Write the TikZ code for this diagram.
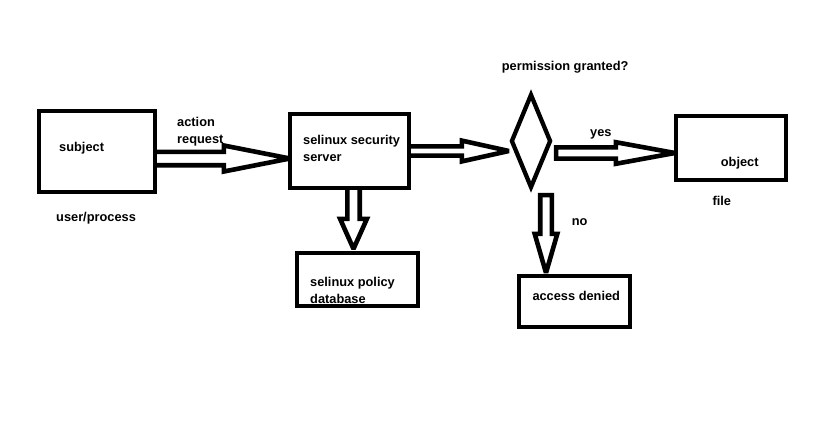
\documentclass[tikz,border=0pt]{standalone}
\usepackage{fontspec}
\setmainfont{Liberation Sans}
\usetikzlibrary{shapes.geometric,calc}
\tikzset{
  box/.style={draw, line width=4.3pt, rectangle, inner sep=0pt, line join=miter},
  dia/.style={draw, line width=4.3pt, diamond, inner sep=0pt, line join=miter, miter limit=12},
  txt/.style={inner sep=0pt, anchor=base west, font=\fontsize{12.8pt}{15pt}\selectfont\bfseries},
  blk/.style={draw, line width=4.6pt, line join=miter, miter limit=2}
}
% horizontal block arrow: tail, tip, shaft half, head half, head length, closing
\newcommand{\harrow}[6]{%
  \path[blk] let \p1=(#1), \p2=(#2) in
    (\x1,{\y1+#3pt}) -- ({\x2-#5pt},{\y1+#3pt}) -- ({\x2-#5pt},{\y1+#4pt}) -- (\x2,\y1)
    -- ({\x2-#5pt},{\y1-#4pt}) -- ({\x2-#5pt},{\y1-#3pt}) -- (\x1,{\y1-#3pt}) #6;}
% vertical (downward) block arrow
\newcommand{\varrow}[6]{%
  \path[blk] let \p1=(#1), \p2=(#2) in
    ({\x1-#3pt},\y1) -- ({\x1-#3pt},{\y2+#5pt}) -- ({\x1-#4pt},{\y2+#5pt}) -- (\x1,\y2)
    -- ({\x1+#4pt},{\y2+#5pt}) -- ({\x1+#3pt},{\y2+#5pt}) -- ({\x1+#3pt},\y1) #6;}
\begin{document}
\begin{tikzpicture}[x=1pt,y=-1pt]
\useasboundingbox[fill=white] (0,0) rectangle (820,421);
% boxes
\node[box, minimum width=116pt, minimum height=81pt] (subject) at (97,151.5) {};
\node[box, minimum width=119pt, minimum height=74pt] (server) at (349.5,151) {};
\node[box, minimum width=121pt, minimum height=53pt] (policy) at (357.5,279.5) {};
\node[box, minimum width=110pt, minimum height=64pt] (object) at (731,148) {};
\node[box, minimum width=111pt, minimum height=51pt] (access) at (574.5,301.5) {};
\node[dia, minimum width=40pt, minimum height=94pt] (decision) at (531,141) {};
% texts
\node[txt] (tsubject) at (59,151) {subject};
\node[txt] (tuser) at (56,221.5) {user/process};
\node[txt] (taction) at (177,126) {action};
\node[txt] (trequest) at (177,143.5) {request};
\node[txt] (tserver1) at (303,144.3) {selinux security};
\node[txt] (tserver2) at (303,161.7) {server};
\node[txt] (tpolicy1) at (310,286.7) {selinux policy};
\node[txt] (tpolicy2) at (310,303.3) {database};
\node[txt] (tperm) at (501.7,70) {permission granted?};
\node[txt] (tyes) at (590,136) {yes};
\node[txt] (tobject) at (720.7,166.7) {object};
\node[txt] (tfile) at (712.3,205) {file};
\node[txt] (tno) at (571.7,225) {no};
\node[txt] (taccess) at (532.3,300) {access denied};
% block arrows
\harrow{[yshift=-7pt]subject.east}{[xshift=2pt]server.west}{6.7}{13}{66}{}
\harrow{server.east}{decision.west}{4.6}{10.4}{47}{}
\harrow{[xshift=3pt,yshift=-12pt]decision.east}{[xshift=1pt]object.west}{5.6}{10.8}{59}{-- cycle}
\varrow{[xshift=4pt]server.south}{[yshift=2pt]policy.north}{6.2}{13.4}{30}{}
\varrow{[xshift=15pt,yshift=-5pt]decision.south}{[yshift=1pt]access.north}{5.8}{11.3}{39}{-- cycle}
\end{tikzpicture}
\end{document}
